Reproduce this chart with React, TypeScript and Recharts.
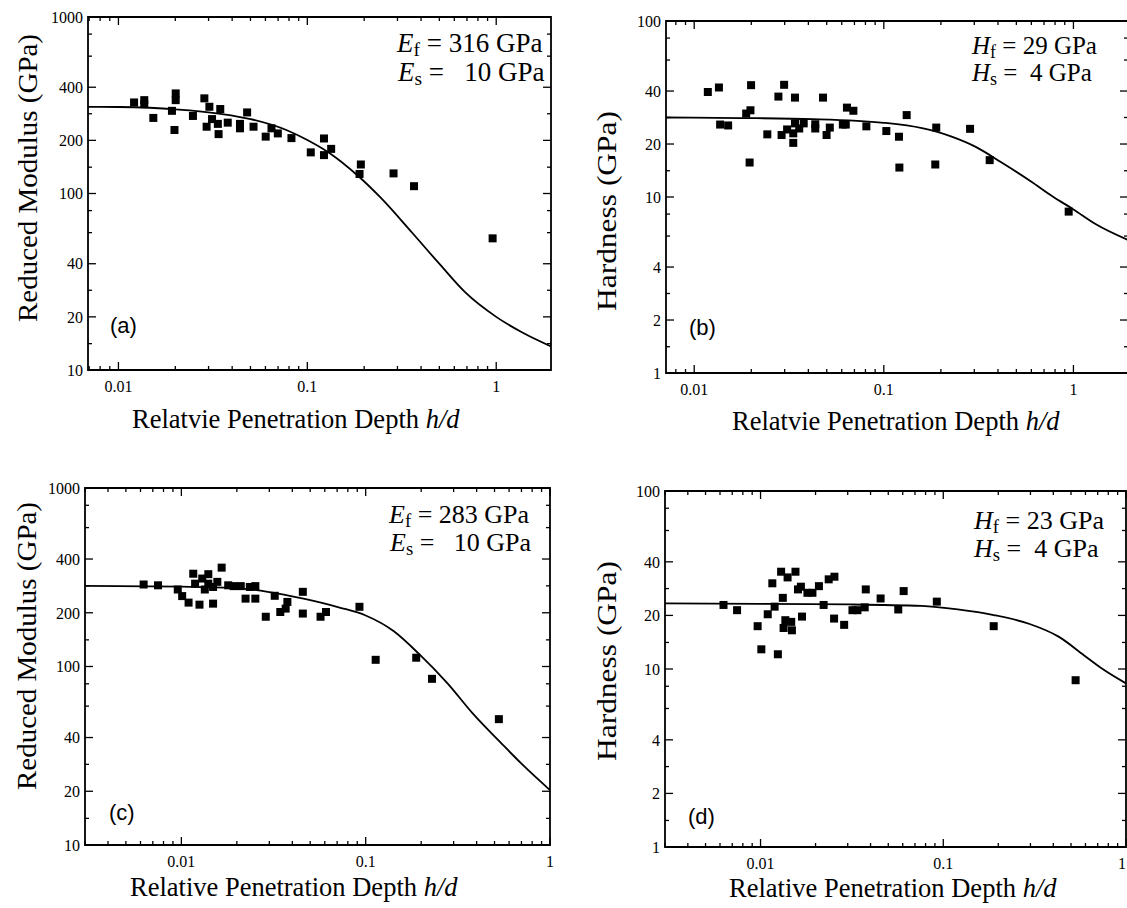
import React from "react";
import { ComposedChart, Scatter, Line, XAxis, YAxis, ReferenceArea } from "recharts";

const SERIF = '"Liberation Serif", "Times New Roman", Times, serif';
const SANS = '"Liberation Sans", Arial, Helvetica, sans-serif';

// ---------------- data ----------------
// Panel (a): reduced modulus vs relative depth
const pointsA: number[][] = [
  [0.0121, 328], [0.0137, 338], [0.0137, 321], [0.0153, 268], [0.0192, 294], [0.0201, 369],
  [0.0201, 338], [0.0198, 229], [0.0248, 275], [0.0285, 346], [0.0293, 239], [0.0303, 310],
  [0.0313, 264], [0.0336, 248], [0.0339, 217], [0.0346, 301], [0.0379, 252], [0.044, 234],
  [0.044, 248], [0.048, 288], [0.0519, 239], [0.0602, 210], [0.0646, 234], [0.0698, 219],
  [0.0824, 206], [0.1043, 171], [0.1225, 205], [0.1225, 165], [0.1337, 179], [0.189, 129],
  [0.192, 146], [0.286, 130], [0.367, 110], [0.957, 55.7],
];
const curveA: number[][] = [
  [0.0069, 310], [0.01, 309], [0.02, 300], [0.0354, 282], [0.0501, 264], [0.0774, 229],
  [0.1, 201], [0.1337, 167], [0.1853, 126], [0.246, 94], [0.356, 60.5], [0.505, 39.5],
  [0.684, 27.6], [1, 20], [1.375, 16.3], [1.95, 13.6],
];

// Panel (b): hardness vs relative depth
const pointsB: number[][] = [
  [0.0118, 39.5], [0.0135, 41.9], [0.0137, 25.8], [0.0151, 25.5], [0.0188, 29.8], [0.0198, 31.1],
  [0.01995, 43.2], [0.0196, 15.7], [0.0243, 22.7], [0.0278, 37.2], [0.0289, 22.5], [0.0298, 43.4],
  [0.0309, 24.2], [0.0333, 23.0], [0.0333, 20.3], [0.034, 36.7], [0.034, 26.2], [0.0358, 24.5],
  [0.0378, 26.2], [0.0435, 25.9], [0.0435, 24.5], [0.0478, 36.7], [0.0499, 22.5], [0.0519, 24.8],
  [0.0608, 25.8], [0.063, 25.8], [0.0639, 32.2], [0.0691, 30.9], [0.0809, 25.2], [0.1031, 23.7],
  [0.1202, 22.0], [0.1208, 14.7], [0.132, 29.2], [0.1868, 15.3], [0.189, 24.8], [0.285, 24.4],
  [0.3617, 16.2], [0.944, 8.26],
];
const curveB: number[][] = [
  [0.0071, 28.3], [0.0176, 28.1], [0.0424, 27.7], [0.1, 26.4], [0.159, 24.6], [0.226, 22.1],
  [0.307, 19.2], [0.418, 15.7], [0.595, 12.3], [0.774, 10.1], [1, 8.5], [1.314, 7.0], [1.94, 5.7],
];

// Panel (c): reduced modulus vs relative depth
const pointsC: number[][] = [
  [0.00624, 288], [0.00747, 285], [0.00956, 270], [0.0101, 248], [0.01094, 228], [0.0116, 331],
  [0.01187, 291], [0.01254, 222], [0.01298, 311], [0.0134, 270], [0.014, 329], [0.014, 291],
  [0.01486, 225], [0.01486, 279], [0.01567, 298], [0.01654, 358], [0.01795, 285], [0.0192, 282],
  [0.021, 282], [0.0223, 240], [0.0235, 279], [0.0252, 282], [0.0252, 240], [0.0287, 190],
  [0.0321, 249], [0.0344, 202], [0.0368, 211], [0.0376, 230], [0.0456, 262], [0.0456, 198],
  [0.0569, 190], [0.0609, 202], [0.0925, 216], [0.1133, 109], [0.188, 112], [0.229, 85.3],
  [0.528, 50.7],
];
const curveC: number[][] = [
  [0.003, 283], [0.01, 280], [0.01875, 275.5], [0.0294, 262], [0.046, 240], [0.0722, 214],
  [0.1, 193], [0.1416, 158], [0.194, 118], [0.278, 80.4], [0.3806, 54.6], [0.545, 37.1],
  [0.714, 28], [1, 20.3],
];

// Panel (d): hardness vs relative depth
const pointsD: number[][] = [
  [0.00627, 22.9], [0.00744, 21.4], [0.00964, 17.4], [0.0101, 12.9], [0.01095, 20.3], [0.0116, 30.3],
  [0.01194, 22.4], [0.01244, 12.1], [0.01296, 35.2], [0.01324, 25.1], [0.01337, 17.0], [0.01367, 18.8],
  [0.01406, 32.7], [0.01472, 18.4], [0.01485, 16.5], [0.01553, 35.2], [0.01603, 28.0], [0.01663, 29.0],
  [0.01686, 19.7], [0.01805, 26.8], [0.01923, 26.8], [0.02087, 29.2], [0.02214, 22.9], [0.0236, 31.9],
  [0.02526, 19.2], [0.02537, 33.0], [0.02868, 17.7], [0.03184, 21.4], [0.0339, 21.4], [0.03716, 22.2],
  [0.03767, 28.0], [0.0454, 24.9], [0.0567, 21.6], [0.0607, 27.4], [0.0922, 23.9], [0.1888, 17.4],
  [0.53, 8.65],
];
const curveD: number[][] = [
  [0.003, 23.4], [0.01, 23.2], [0.0307, 23.05], [0.0762, 22.6], [0.12, 21.6], [0.1888, 20.1],
  [0.297, 17.9], [0.4276, 15.2], [0.588, 11.96], [0.738, 10.06], [1, 8.3],
];

// ---------------- axis ticks ----------------
const xLabels = [0.01, 0.1, 1];
const xTicksA = [0.007, 0.008, 0.009, 0.01, 0.02, 0.03, 0.04, 0.05, 0.06, 0.07, 0.08, 0.09,
  0.1, 0.2, 0.3, 0.4, 0.5, 0.6, 0.7, 0.8, 0.9, 1];
const xTicksB = [0.008, 0.009, 0.01, 0.02, 0.03, 0.04, 0.05, 0.06, 0.07, 0.08, 0.09,
  0.1, 0.2, 0.3, 0.4, 0.5, 0.6, 0.7, 0.8, 0.9, 1];
const xTicksCD = [0.003, 0.004, 0.005, 0.006, 0.007, 0.008, 0.009, 0.01, 0.02, 0.03, 0.04, 0.05,
  0.06, 0.07, 0.08, 0.09, 0.1, 0.2, 0.3, 0.4, 0.5, 0.6, 0.7, 0.8, 0.9, 1];
const yLabelsModulus = [10, 20, 40, 100, 200, 400, 1000];
const yMinorModulus = [14.1, 28.3, 60, 80, 141, 283, 600, 800];
const yLabelsHardness = [1, 2, 4, 10, 20, 40, 100];
const yMinorHardness = [1.41, 2.83, 6, 8, 14.1, 28.3, 60, 80];

const xTitleAB = "Relatvie Penetration Depth ";
const xTitleCD = "Relative Penetration Depth ";
const yTitleModulus = "Reduced Modulus (GPa)";
const yTitleHardness = "Hardness (GPa)";

// ---------------- layout ----------------
const PAGE_W = 1127;
type Box = { left: number; top: number; width: number; height: number };
type Frame = { L: number; R: number; T: number; B: number };
type PanelCfg = {
  box: Box; frame: Frame; xDomain: [number, number]; yDomain: [number, number];
  xTicks: number[]; yLabels: number[]; yMinor: number[];
  points: number[][]; curve: number[][];
};

const panels: PanelCfg[] = [
  {
    box: { left: 0, top: 0, width: 563, height: 454 }, frame: { L: 88, R: 551, T: 17, B: 370 },
    xDomain: [0.0069, 1.95], yDomain: [10, 1000], xTicks: xTicksA,
    yLabels: yLabelsModulus, yMinor: yMinorModulus, points: pointsA, curve: curveA,
  },
  {
    box: { left: 563, top: 0, width: 567, height: 454 }, frame: { L: 666, R: 1128, T: 21, B: 373 },
    xDomain: [0.0071, 1.94], yDomain: [1, 100], xTicks: xTicksB,
    yLabels: yLabelsHardness, yMinor: yMinorHardness, points: pointsB, curve: curveB,
  },
  {
    box: { left: 0, top: 454, width: 563, height: 454 }, frame: { L: 85, R: 550, T: 488, B: 845 },
    xDomain: [0.003, 1], yDomain: [10, 1000], xTicks: xTicksCD,
    yLabels: yLabelsModulus, yMinor: yMinorModulus, points: pointsC, curve: curveC,
  },
  {
    box: { left: 563, top: 454, width: 567, height: 454 }, frame: { L: 665, R: 1126, T: 491, B: 847 },
    xDomain: [0.003, 1], yDomain: [1, 100], xTicks: xTicksCD,
    yLabels: yLabelsHardness, yMinor: yMinorHardness, points: pointsD, curve: curveD,
  },
];

const toPts = (a: number[][]) => a.map(([x, y]) => ({ x, y }));
const near = (list: number[], v: number) => list.some((l) => Math.abs(l - v) / l < 1e-6);

const Square = (p: any) => {
  if (p.cx == null || p.cy == null) return <g />;
  return <rect x={p.cx - 4} y={p.cy - 4} width={8} height={8} fill="#000" />;
};

function Panel({ cfg }: { cfg: PanelCfg }) {
  const { box, frame } = cfg;
  // axes take 1px each (a zero-size axis is not drawn), so margins leave room for it
  const margin = {
    top: frame.T - box.top,
    bottom: box.top + box.height - frame.B - 1,
    left: frame.L - box.left - 1,
    right: box.left + box.width - frame.R,
  };
  const lt = frame.T - box.top;
  const lb = frame.B - box.top;
  const ll = frame.L - box.left;
  const lr = frame.R - box.left;
  const pageRight = PAGE_W - box.left;
  const yTicks = [...cfg.yLabels, ...cfg.yMinor].sort((a, b) => a - b);

  const XTick = (p: any) => {
    const x = p.x;
    const v = p.payload?.value;
    const major = near(xLabels, v);
    const len = major ? 8 : 4;
    const atEdge = x + 5 > pageRight;
    return (
      <g>
        <line x1={x} y1={lb} x2={x} y2={lb - len} stroke="#000" strokeWidth={1.3} />
        <line x1={x} y1={lt} x2={x} y2={lt + len} stroke="#000" strokeWidth={1.3} />
        {major ? (
          <text
            x={atEdge ? pageRight - 1 : x} y={lb + 22} textAnchor={atEdge ? "end" : "middle"}
            fontFamily={SERIF} fontSize={16} fill="#000"
          >
            {String(v)}
          </text>
        ) : null}
      </g>
    );
  };
  const YTick = (p: any) => {
    const y = p.y;
    const v = p.payload?.value;
    const major = near(cfg.yLabels, v);
    const len = major ? 8 : 4;
    return (
      <g>
        <line x1={ll} y1={y} x2={ll + len} y2={y} stroke="#000" strokeWidth={1.3} />
        <line x1={lr} y1={y} x2={lr - len} y2={y} stroke="#000" strokeWidth={1.3} />
        {major ? (
          <text x={ll - 5} y={y} dy="0.36em" textAnchor="end" fontFamily={SERIF} fontSize={16} fill="#000">
            {String(v)}
          </text>
        ) : null}
      </g>
    );
  };

  return (
    <div style={{ position: "absolute", left: box.left, top: box.top, width: box.width, height: box.height }}>
      <ComposedChart width={box.width} height={box.height} margin={margin}>
        <XAxis
          type="number" dataKey="x" scale="log" domain={cfg.xDomain} allowDataOverflow
          ticks={cfg.xTicks} interval={0} tick={XTick} tickLine={false} axisLine={false}
          tickSize={0} tickMargin={0} height={1}
        />
        <YAxis
          type="number" dataKey="y" scale="log" domain={cfg.yDomain} allowDataOverflow
          ticks={yTicks} interval={0} tick={YTick} tickLine={false} axisLine={false}
          tickSize={0} tickMargin={0} width={1}
        />
        <ReferenceArea
          x1={cfg.xDomain[0]} x2={cfg.xDomain[1]} y1={cfg.yDomain[0]} y2={cfg.yDomain[1]}
          fill="none" fillOpacity={0} stroke="#000" strokeWidth={1.8} ifOverflow="visible"
        />
        <Line
          data={toPts(cfg.curve)} dataKey="y" type="monotone" dot={false} stroke="#000"
          strokeWidth={1.8} isAnimationActive={false}
        />
        <Scatter data={toPts(cfg.points)} dataKey="y" fill="#000" shape={Square} isAnimationActive={false} />
      </ComposedChart>
    </div>
  );
}

function Sub({ base, sub, rest, x, y, size }: { base: string; sub: string; rest: string; x: number; y: number; size: number }) {
  return (
    <text x={x} y={y} fontFamily={SERIF} fontSize={size} fill="#000" style={{ whiteSpace: "pre" }}>
      <tspan fontStyle="italic">{base}</tspan>
      <tspan fontSize={size * 0.72} dy={4}>{sub}</tspan>
      <tspan dy={-4}>{rest}</tspan>
    </text>
  );
}

function XTitle({ text, x, y }: { text: string; x: number; y: number }) {
  return (
    <text x={x} y={y} fontFamily={SERIF} fontSize={26.5} fill="#000">
      {text}
      <tspan fontStyle="italic">h/d</tspan>
    </text>
  );
}

function YTitle({ text, x, bottom, len, size }: { text: string; x: number; bottom: number; len: number; size: number }) {
  return (
    <text
      x={0} y={0} transform={`translate(${x},${bottom}) rotate(-90)`} fontFamily={SERIF} fontSize={size}
      fill="#000" textLength={len} lengthAdjust="spacingAndGlyphs"
    >
      {text}
    </text>
  );
}

export default function App() {
  return (
    <div style={{ position: "absolute", left: 0, top: 0, width: PAGE_W, height: 908, overflow: "hidden", background: "#fff" }}>
      {panels.map((p, i) => (
        <Panel key={i} cfg={p} />
      ))}
      <svg width={PAGE_W} height={908} style={{ position: "absolute", left: 0, top: 0, pointerEvents: "none" }}>
        <YTitle text={yTitleModulus} x={37} bottom={322} len={288} size={28} />
        <YTitle text={yTitleHardness} x={616} bottom={311} len={200} size={27} />
        <YTitle text={yTitleModulus} x={36} bottom={790} len={288} size={28} />
        <YTitle text={yTitleHardness} x={616} bottom={761} len={200} size={27} />

        <XTitle text={xTitleAB} x={132} y={428} />
        <XTitle text={xTitleAB} x={732} y={430} />
        <XTitle text={xTitleCD} x={130} y={896} />
        <XTitle text={xTitleCD} x={729} y={897} />

        <Sub base="E" sub="f" rest=" = 316 GPa" x={397} y={52} size={27} />
        <Sub base="E" sub="s" rest=" =   10 GPa" x={398} y={81} size={27} />
        <Sub base="H" sub="f" rest=" = 29 GPa" x={972} y={54} size={25} />
        <Sub base="H" sub="s" rest=" =  4 GPa" x={972} y={81} size={25} />
        <Sub base="E" sub="f" rest=" = 283 GPa" x={389} y={523} size={26} />
        <Sub base="E" sub="s" rest=" =   10 GPa" x={390} y={551} size={26} />
        <Sub base="H" sub="f" rest=" = 23 GPa" x={974} y={529} size={26} />
        <Sub base="H" sub="s" rest=" =  4 GPa" x={974} y={557} size={26} />

        <text x={110} y={333} fontFamily={SANS} fontSize={22} fill="#000">(a)</text>
        <text x={689} y={335} fontFamily={SANS} fontSize={22} fill="#000">(b)</text>
        <text x={109} y={820} fontFamily={SANS} fontSize={22} fill="#000">(c)</text>
        <text x={688} y={824} fontFamily={SANS} fontSize={22} fill="#000">(d)</text>
      </svg>
    </div>
  );
}
